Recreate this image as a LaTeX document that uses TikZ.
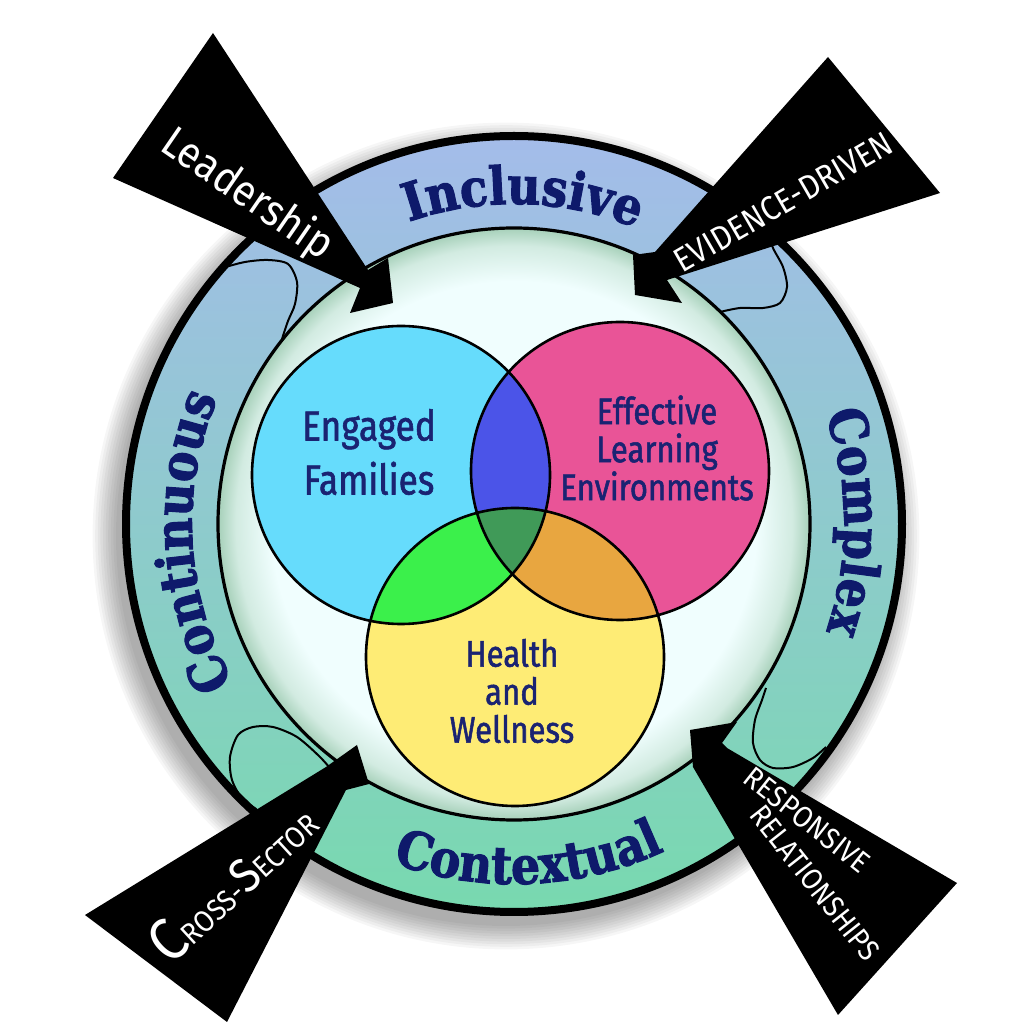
\documentclass[tikz,border=0pt]{standalone}
\usepackage{fontspec}
\usetikzlibrary{decorations.text}
\newfontfamily\ringfont[FakeStretch=0.88,FakeBold=2]{DejaVu Serif}
\newfontfamily\vennfont[FakeStretch=0.84,FakeBold=1.4]{Fira Sans}
\newfontfamily\handfont[FakeStretch=0.9]{Fira Sans}
\definecolor{ringtop}{HTML}{A4BCEA}
\definecolor{ringbot}{HTML}{78D9AF}
\definecolor{ringtext}{HTML}{0E1A6B}
\definecolor{vennnavy}{HTML}{1A2372}
\definecolor{innA}{HTML}{F0FEFE}
\definecolor{innB}{HTML}{D2EBE1}
\definecolor{innC}{HTML}{A6D0B9}
\definecolor{cyanc}{HTML}{66DCFC}
\definecolor{pinkc}{HTML}{E95497}
\definecolor{yellowc}{HTML}{FEEC75}
\definecolor{purplec}{HTML}{4B54E8}
\definecolor{greenc}{HTML}{3BF04B}
\definecolor{orangec}{HTML}{E8A640}
\definecolor{dkgreenc}{HTML}{409A58}
\pgfdeclareradialshading{innershade}{\pgfpoint{0bp}{0bp}}{color(0bp)=(innA); color(20.5bp)=(innA); color(23.5bp)=(innB); color(25bp)=(innC); color(50bp)=(innC)}
\newcommand\ringstyle{\ringfont\bfseries\fontsize{26}{26}\selectfont\color{ringtext}}
\begin{document}
\begin{tikzpicture}[x=0.5pt,y=0.5pt,
  vennline/.style={draw=black,line width=1.3pt},
  venntext/.style={text=vennnavy,align=center,font=\vennfont\fontsize{18.5}{19}\selectfont,inner sep=0pt},
  handtext/.style={text=white,font=\handfont,inner sep=0pt,align=center},
  loopline/.style={draw=black,line width=1pt},
  arrowshape/.style={fill=black}]
\useasboundingbox (0,0) rectangle (1024,1024);
\fill[white] (0,0) rectangle (1024,1024);
\coordinate (C) at (514,500);
% drop shadow
\foreach \k in {0,...,9} {\fill[black,opacity=0.035] (506,488) circle[radius={390+2.6*\k}];}
% ring
\shade[top color=ringtop,bottom color=ringbot,even odd rule] (C) circle[radius=388] (C) circle[radius=296];
% ribbon folds
\draw[loopline] plot[smooth] coordinates {(222,756) (245,762) (268,764) (288,760) (297,742) (295,720) (288,703) (282,685)};
\draw[loopline] plot[smooth] coordinates {(768,792) (773,776) (783,757) (787,737) (780,721) (763,716) (740,716) (720,712)};
\draw[loopline] plot[smooth] coordinates {(250,208) (257,214) (243,224) (232,244) (230,267) (238,289) (253,297) (273,297) (297,287) (320,267) (335,250)};
\draw[loopline] plot[smooth] coordinates {(766,336) (762,324) (755,304) (753,281) (760,264) (773,256) (793,257) (813,266) (826,277)};
% inner disc
\shade[shading=innershade] (C) circle[radius=296];
\draw[line width=1.6pt] (C) circle[radius=296];
\draw[line width=4pt] (C) circle[radius=388];
% Venn diagram
\coordinate (cA) at (401,549);
\coordinate (cB) at (620,553);
\coordinate (cC) at (515,367);
\fill[cyanc] (cA) circle[radius=149];
\fill[pinkc] (cB) circle[radius=149];
\fill[yellowc] (cC) circle[radius=149];
\begin{scope}
  \clip (cB) circle[radius=149];
  \fill[orangec] (cC) circle[radius=149];
\end{scope}
\begin{scope}
  \clip (cA) circle[radius=149];
  \fill[purplec] (cB) circle[radius=149];
  \fill[greenc] (cC) circle[radius=149];
  \clip (cB) circle[radius=149];
  \fill[dkgreenc] (cC) circle[radius=149];
\end{scope}
\draw[vennline] (cA) circle[radius=149];
\draw[vennline] (cB) circle[radius=149];
\draw[vennline] (cC) circle[radius=149];
\node[venntext,font=\vennfont\fontsize{21}{21}\selectfont] (tEF) at (369,572) {Engaged\\[6pt]Families};
\node[venntext] (tELE) at (657,576) {Effective\\Learning\\Environments};
\node[venntext] (tHW) at (512,333) {Health\\and\\Wellness};
% black arrows
\fill[arrowshape] (213,991) -- (368,754) -- (388,766) -- (393,721) -- (350,711) -- (360,736) -- (113,846) -- cycle;
\fill[arrowshape] (828,967) -- (655,772) -- (633,769) -- (635,729) -- (682,721) -- (667,744) -- (940,831) -- cycle;
\fill[arrowshape] (85,109) -- (326,257) -- (357,279) -- (369,240) -- (346,234) -- (227,2) -- cycle;
\fill[arrowshape] (957,141) -- (727,276) -- (722,281) -- (737,302) -- (690,294) -- (693,257) -- (838,9) -- cycle;
% ring words
\begin{scope}[shift={(514,500)}]
\path[decorate,decoration={text along path,text align=center,text={|\ringstyle|Inclusive}}] (148.4:320) arc[start angle=148.4,end angle=28.4,radius=320];
\path[decorate,decoration={text along path,text align=center,text={|\ringstyle|Contextual}}] (212.5:360) arc[start angle=212.5,end angle=332.5,radius=360];
\path[decorate,decoration={text along path,text align=center,text={|\ringstyle|Continuous}}] (243.2:322) arc[start angle=243.2,end angle=123.2,radius=322];
\path[decorate,decoration={text along path,text align=center,text={|\ringstyle|Complex}}] (60.3:330) arc[start angle=60.3,end angle=-59.7,radius=330];
\end{scope}
% arrow words
\node[handtext,rotate=-34.5,font=\handfont\fontsize{22}{22}\selectfont] (tLead) at (247,829) {Leadership};
\node[handtext,rotate=30,font=\handfont\fontsize{17}{17}\selectfont] (tEvid) at (783,822) {EVIDENCE-DRIVEN};
\node[handtext,rotate=42.6,font=\handfont\fontsize{15}{15}\selectfont] (tCross) at (232,142) {{\fontsize{30}{30}\selectfont C}ROSS-{\fontsize{24}{24}\selectfont S}ECTOR};
\node[handtext,rotate=-38.4,font=\handfont\fontsize{15}{15}\selectfont] (tResp) at (807,204) {RESPONSIVE};
\node[handtext,rotate=-51.7,font=\handfont\fontsize{15}{15}\selectfont] (tRel) at (815,141) {RELATIONSHIPS};
\end{tikzpicture}
\end{document}
